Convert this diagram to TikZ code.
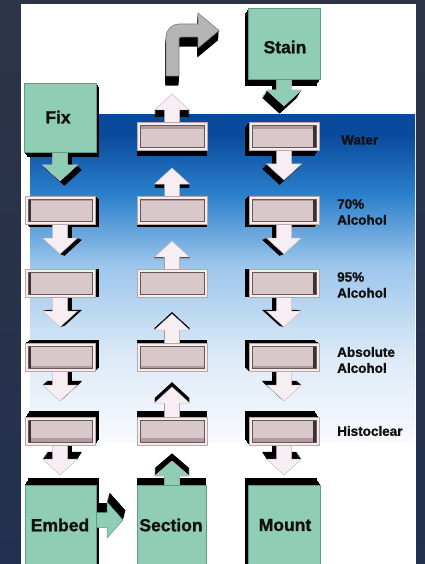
\documentclass[tikz,border=0pt]{standalone}
\usepackage{fontspec}
\setmainfont{Liberation Sans}
\newfontfamily\heavyfont[FakeBold=1.2]{Liberation Sans Bold}
\definecolor{bgtop}{HTML}{2D3447}
\definecolor{bgbot}{HTML}{22304F}
\definecolor{grn}{HTML}{8FCDB5}
\definecolor{grnline}{HTML}{5E9C84}
\definecolor{trayrim}{HTML}{F3EDEF}
\definecolor{rimline}{HTML}{B8A8AC}
\definecolor{trayin}{HTML}{D9C8C9}
\definecolor{traywall}{HTML}{B49A9E}
\definecolor{traydark}{HTML}{3E3030}
\definecolor{innerline}{HTML}{6A5656}
\definecolor{arr}{HTML}{F6EEF2}
\definecolor{arrdraw}{HTML}{CDBFC5}
\definecolor{gry}{HTML}{B5B5B7}
\definecolor{gryline}{HTML}{808080}
\definecolor{txt}{HTML}{111111}
\definecolor{b1}{HTML}{0A4A9C}
\definecolor{b2}{HTML}{2A7FCB}
\definecolor{b3}{HTML}{9CC6EC}
\definecolor{b4}{HTML}{DCEAF7}
\definecolor{bw}{HTML}{F8FAFD}
\pgfdeclareverticalshading{bluefade}{100bp}{color(0bp)=(bw); color(25bp)=(bw); color(38bp)=(b4); color(52bp)=(b3); color(63bp)=(b2); color(72bp)=(b1); color(100bp)=(b1)}
% extrusion sweep toward vanishing point (172,283)
\newcommand\extr[4]{%
  \pgfmathsetmacro\esx{#1*(172-(#2))}%
  \pgfmathsetmacro\esy{#1*(283-(#3))}%
  \foreach \ii in {1,...,8}{\fill[black,shift={({\ii/8*(\esx)},{\ii/8*(\esy)})}] #4;}%
}
\newcommand\varrowsweep[4]{% cx y0 yh yt
  \extr{0.04}{#1}{(#2+#4)/2}{({#1-7.5},{#2}) -- ({#1+7.5},{#2}) -- ({#1+7.5},{#3}) -- ({#1+17.5},{#3}) -- ({#1},{#4}) -- ({#1-17.5},{#3}) -- ({#1-7.5},{#3}) -- cycle}}
\newcommand\varrowfill[5]{% color cx y0 yh yt
  \filldraw[fill=#1,draw=arrdraw,line width=0.5] ({#2-7.5},{#3}) -- ({#2+7.5},{#3}) -- ({#2+7.5},{#4}) -- ({#2+17.5},{#4}) -- ({#2},{#5}) -- ({#2-17.5},{#4}) -- ({#2-7.5},{#4}) -- cycle;}
\newcommand\trayface[2]{%
  \pgfmathsetmacro\isx{0.03*(172-(#1))}%
  \pgfmathsetmacro\isy{0.03*(283-(#2))}%
  \filldraw[fill=trayrim,draw=rimline,line width=0.5] ({#1-35},{#2-14}) rectangle ({#1+35},{#2+14});
  \begin{scope}
    \clip ({#1-32},{#2-11}) rectangle ({#1+32},{#2+11});
    \fill[traywall] ({#1-32},{#2-11}) rectangle ({#1+32},{#2+11});
    \fill[traydark] ({#1-32},{#2-11}) rectangle ({#1-32+(\isx)},{#2+11});
    \fill[traydark] ({#1+32+(\isx)},{#2-11}) rectangle ({#1+32},{#2+11});
    \fill[trayin] ({#1-32+(\isx)},{#2-11+(\isy)}) rectangle ({#1+32+(\isx)},{#2+11+(\isy)});
  \end{scope}
  \draw[innerline,line width=0.6] ({#1-32},{#2-11}) rectangle ({#1+32},{#2+11});
}
\tikzset{
  big/.style={font=\heavyfont\fontsize{17.5}{20}\selectfont, text=txt, inner sep=0},
  side/.style={font=\heavyfont\fontsize{13.5}{16}\selectfont, text=txt, anchor=west, align=left, inner sep=0},
  greenbox/.style={fill=grn, draw=grnline, line width=0.5},
}
\begin{document}
\begin{tikzpicture}[x=1pt,y=-1pt]
\useasboundingbox (0,0) rectangle (425,564);
\shade[top color=bgtop,bottom color=bgbot] (0,0) rectangle (425,564);
\fill[white] (21,4) rectangle (416,564);
\shade[shading=bluefade] (30,115) rectangle (415,442);

% ---- pass 1: extrusions of trays and boxes
\foreach \cx/\cy in {172/136,284/136,60/210,172/210,284/210,60/283,172/283,284/283,60/357,172/357,284/357,60/431,172/431,284/431}{
  \extr{0.04}{\cx}{\cy}{({\cx-35},{\cy-14}) rectangle ({\cx+35},{\cy+14})}
}
\extr{0.03}{60}{117.5}{(24,83) rectangle (96,152)}
\extr{0.03}{284}{43.5}{(248,8) rectangle (320,79)}
\extr{0.03}{60}{523}{(25,485) rectangle (96,570)}
\extr{0.03}{171.5}{523}{(137,485) rectangle (206,570)}
\extr{0.03}{284}{523}{(248,485) rectangle (320,570)}

% ---- pass 2: extrusions of arrows
\foreach \cx/\ya/\yb/\yc in {60/150/165/181,60/222/238/254,60/295/311/327,60/369/385/401,60/443/459/475,
  284/77/90/106,284/148/164/180,284/222/238/254,284/295/311/327,284/369/385/401,284/443/459/475,
  172/487/476/461,172/419/403/387,172/345/330/314,172/271/257/241,172/198/184/168,172/124/110/94}{
  \varrowsweep{\cx}{\ya}{\yb}{\yc}
}
\extr{0.04}{108}{520}{(94,512.5) -- (107,512.5) -- (107,502) -- (123,520) -- (107,538) -- (107,527.5) -- (94,527.5) -- cycle}
\extr{0.04}{190}{45}{(166,76) -- (166,37) arc[start angle=180,end angle=270,radius=13] -- (198,24) -- (198,13) -- (219,30.5) -- (198,48) -- (198,37) -- (181,37) arc[start angle=270,end angle=180,radius=2] -- (179,76) -- cycle}

% ---- pass 3: arrow faces
\varrowfill{grn}{60}{150}{165}{181}
\foreach \cx/\ya/\yb/\yc in {60/222/238/254,60/295/311/327,60/369/385/401,60/443/459/475}{\varrowfill{arr}{\cx}{\ya}{\yb}{\yc}}
\varrowfill{grn}{284}{77}{90}{106}
\foreach \cx/\ya/\yb/\yc in {284/148/164/180,284/222/238/254,284/295/311/327,284/369/385/401,284/443/459/475}{\varrowfill{arr}{\cx}{\ya}{\yb}{\yc}}
\varrowfill{grn}{172}{487}{476}{461}
\foreach \cx/\ya/\yb/\yc in {172/419/403/387,172/345/330/314,172/271/257/241,172/198/184/168,172/124/110/94}{\varrowfill{arr}{\cx}{\ya}{\yb}{\yc}}
\filldraw[fill=grn,draw=grnline,line width=0.5] (94,512.5) -- (107,512.5) -- (107,502) -- (123,520) -- (107,538) -- (107,527.5) -- (94,527.5) -- cycle;
\filldraw[fill=gry,draw=gryline,line width=0.6] (166,76) -- (166,37) arc[start angle=180,end angle=270,radius=13] -- (198,24) -- (198,13) -- (219,30.5) -- (198,48) -- (198,37) -- (181,37) arc[start angle=270,end angle=180,radius=2] -- (179,76) -- cycle;

% ---- pass 4: faces of trays and boxes
\foreach \cx/\cy in {172/136,284/136,60/210,172/210,284/210,60/283,172/283,284/283,60/357,172/357,284/357,60/431,172/431,284/431}{
  \trayface{\cx}{\cy}
}
\filldraw[greenbox] (24,83) rectangle (96,152);
\filldraw[greenbox] (248,8) rectangle (320,79);
\filldraw[greenbox] (25,485) rectangle (96,570);
\filldraw[greenbox] (137,485) rectangle (206,570);
\filldraw[greenbox] (248,485) rectangle (320,570);

% ---- pass 5: texts
\node[big] (fix) at (58,117) {Fix};
\node[big] (stain) at (285,47) {Stain};
\node[big] (embed) at (60,525) {Embed};
\node[big] (section) at (171,525) {Section};
\node[big] (mount) at (285,525) {Mount};
\node[side] (water) at (341,140) {Water};
\node[side] (a70) at (337,212) {70\%\\Alcohol};
\node[side] (a95) at (337,285) {95\%\\Alcohol};
\node[side] (abs) at (337,360) {Absolute\\Alcohol};
\node[side] (histo) at (337,431) {Histoclear};
\end{tikzpicture}
\end{document}
